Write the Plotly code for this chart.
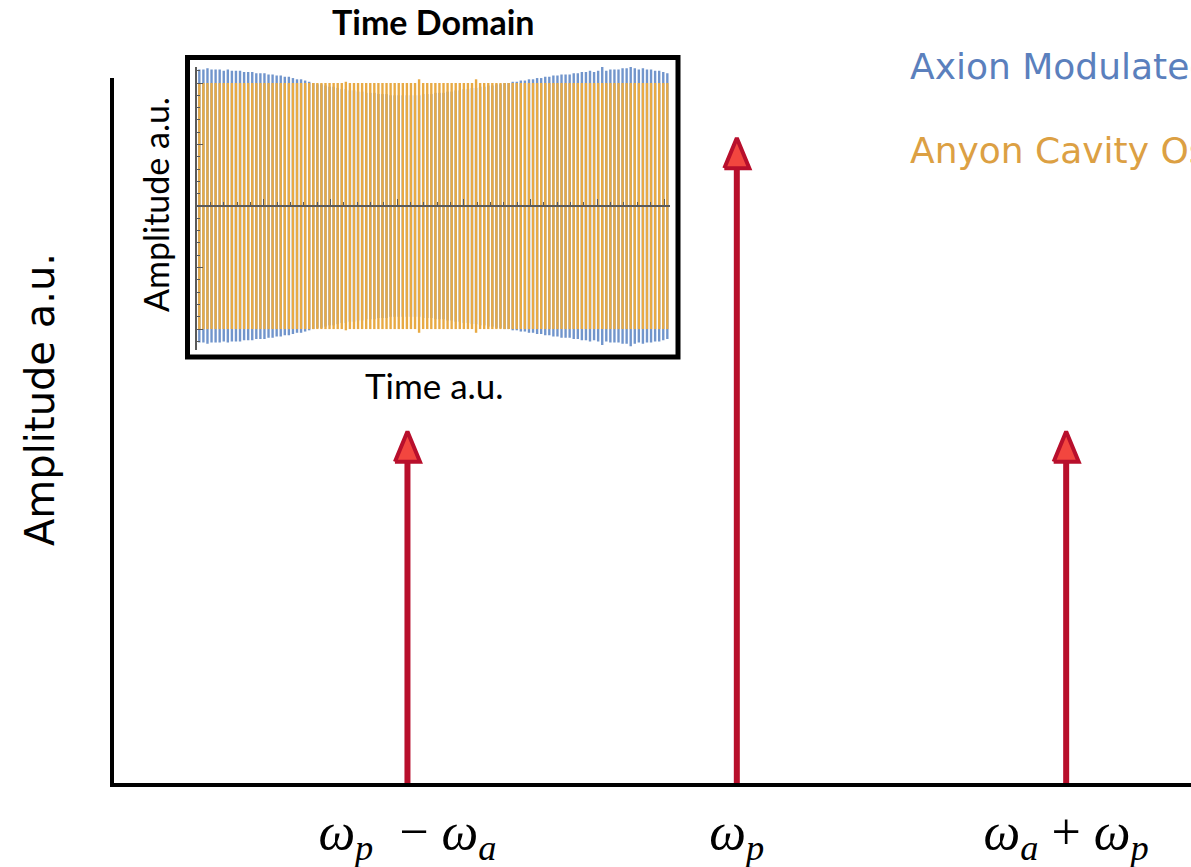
import numpy as np
import plotly.graph_objects as go

W, H = 1191, 867

# ---- spectrum: three lines (lower sideband, pump, upper sideband) ----
line_pos = [1, 2, 3]
line_amp = [0.545, 1.0, 0.545]
line_labels = [
    "<i>ω</i><sub><i>p</i></sub>&nbsp;&nbsp;− <i>ω</i><sub><i>a</i></sub>",
    "<i>ω</i><sub><i>p</i></sub>",
    "<i>ω</i><sub><i>a</i></sub> + <i>ω</i><sub><i>p</i></sub>",
]

# ---- time-domain inset: peak amplitude of each oscillation cycle ----
axion_amp = [
    1.11, 1.11, 1.12, 1.11, 1.11, 1.11, 1.10, 1.11, 1.10, 1.10,
    1.10, 1.09, 1.09, 1.09, 1.08, 1.08, 1.08, 1.07, 1.07, 1.06,
    1.06, 1.05, 1.05, 1.04, 1.03, 1.03, 1.02, 1.01, 1.00, 0.99,
    0.99, 0.98, 0.97, 0.97, 0.96, 0.95, 0.95, 0.94, 0.94, 0.93,
    0.93, 0.92, 0.92, 0.92, 0.91, 0.91, 0.91, 0.90, 0.90, 0.90,
    0.90, 0.90, 0.90, 0.90, 0.90, 0.91, 0.91, 0.91, 0.92, 0.92,
    0.92, 0.93, 0.93, 0.94, 0.94, 0.95, 0.95, 0.96, 0.96, 0.97,
    0.97, 0.98, 0.98, 0.99, 0.99, 1.00, 1.00, 1.01, 1.01, 1.02,
    1.02, 1.03, 1.03, 1.04, 1.04, 1.05, 1.05, 1.06, 1.06, 1.07,
    1.07, 1.07, 1.08, 1.08, 1.09, 1.09, 1.10, 1.09, 1.10, 1.13,
    1.10, 1.11, 1.11, 1.11, 1.12, 1.12, 1.14, 1.12, 1.11, 1.12,
    1.11, 1.11, 1.10, 1.10, 1.09, 1.08,
]
anyon_amp = [
    1.00, 1.00, 1.00, 1.00, 1.00, 1.00, 1.00, 1.00, 1.00, 1.00,
    1.00, 1.00, 1.00, 1.00, 1.00, 1.00, 1.00, 1.00, 1.00, 1.00,
    1.00, 1.00, 1.00, 1.00, 1.00, 1.00, 1.00, 1.00, 1.00, 1.00,
    1.00, 1.00, 1.00, 1.00, 1.00, 1.00, 1.01, 1.00, 1.00, 1.00,
    1.00, 1.00, 1.00, 1.00, 1.00, 1.00, 1.00, 1.00, 1.00, 1.00,
    1.00, 1.00, 1.00, 1.00, 1.03, 1.00, 1.00, 1.00, 1.00, 1.00,
    1.00, 1.00, 1.00, 1.00, 1.00, 1.00, 1.00, 1.00, 1.03, 1.00,
    1.00, 1.00, 1.00, 1.00, 1.00, 1.00, 1.00, 1.00, 1.00, 1.00,
    1.00, 1.00, 1.00, 1.00, 1.00, 1.00, 1.00, 1.00, 1.00, 1.00,
    1.00, 1.00, 1.00, 1.00, 1.00, 1.00, 1.00, 1.00, 1.00, 1.00,
    1.00, 1.00, 1.00, 1.00, 1.00, 1.00, 1.00, 1.00, 1.00, 1.00,
    1.00, 1.00, 1.00, 1.00, 1.00, 1.00,
]
cycle_period = 0.061
cycle_start = 0.035

legend_names = ["Axion Modulated Signal", "Anyon Cavity Oscillation"]

# ---- styling ----
DARK_RED = "#b80f2c"
HEAD_RED = "#f2463f"
AXION_BLUE = "#7195cc"
ANYON_ORANGE = "#e8aa44"
AXION_TEXT = "#5b80bd"
ANYON_TEXT = "#dca043"

def px_x(p):
    return p / W

def px_y(p):
    return 1 - p / H

fig = go.Figure()

# main axes geometry
main_x_dom = [px_x(114), 1.0]
main_y_dom = [px_y(783), px_y(78)]
x_range = [0.109, 3.379]
y_range = [0.0, 1.093]
head_half_w = 0.038
head_len = 0.047

for p, a in zip(line_pos, line_amp):
    fig.add_trace(go.Scatter(
        x=[p, p], y=[0, a - head_len], mode="lines",
        line=dict(color=DARK_RED, width=6), hoverinfo="skip",
        xaxis="x", yaxis="y",
    ))
    fig.add_trace(go.Scatter(
        x=[p - head_half_w, p, p + head_half_w, p - head_half_w],
        y=[a - head_len, a, a - head_len, a - head_len],
        mode="lines", fill="toself", fillcolor=HEAD_RED,
        line=dict(color=DARK_RED, width=4), hoverinfo="skip",
        xaxis="x", yaxis="y",
    ))

# inset geometry
ins_x_dom = [px_x(197), px_x(670)]
ins_y_dom = [px_y(350), px_y(67)]
ins_y_range = [-1.17, 1.13]
ins_x_range = [0, 7.09]
zero_frac = (0 - ins_y_range[0]) / (ins_y_range[1] - ins_y_range[0])
zero_pos = ins_y_dom[0] + zero_frac * (ins_y_dom[1] - ins_y_dom[0])

# each cycle drawn as a vertical stroke from -peak to +peak
t = cycle_start + np.arange(len(axion_amp)) * cycle_period
for amp, col in [(axion_amp, AXION_BLUE), (anyon_amp, ANYON_ORANGE)]:
    xs, ys = [], []
    for ti, ai in zip(t, amp):
        xs += [ti, ti, None]
        ys += [-ai, ai, None]
    fig.add_trace(go.Scatter(
        x=xs, y=ys, mode="lines", line=dict(color=col, width=2.4),
        xaxis="x2", yaxis="y2", hoverinfo="skip", connectgaps=False,
    ))

fig.update_layout(
    width=W, height=H,
    margin=dict(l=0, r=0, t=0, b=0, autoexpand=False),
    paper_bgcolor="white", plot_bgcolor="rgba(0,0,0,0)",
    showlegend=False,
    xaxis=dict(
        domain=main_x_dom, range=x_range, anchor="y",
        showline=True, linecolor="black", linewidth=4,
        showgrid=False, zeroline=False, ticks="",
        tickvals=line_pos, ticktext=line_labels,
        tickfont=dict(family="Liberation Serif", size=52, color="black"),
        ticklabelstandoff=0, ticklabeloverflow="allow", automargin=False,
    ),
    yaxis=dict(
        domain=main_y_dom, range=y_range, anchor="x",
        showline=True, linecolor="black", linewidth=4,
        showgrid=False, zeroline=False, ticks="", showticklabels=False,
        automargin=False,
    ),
    xaxis2=dict(
        domain=ins_x_dom, range=ins_x_range, anchor="free", position=zero_pos,
        showline=True, linecolor="#5a5a5a", linewidth=1.5,
        showgrid=False, zeroline=False, showticklabels=False,
        ticks="inside", ticklen=6, tickwidth=1.2, tickcolor="#5a5a5a",
        tick0=0, dtick=1,
        minor=dict(ticks="inside", ticklen=3, tickwidth=1, tickcolor="#5a5a5a",
                   dtick=0.2, showgrid=False),
        layer="above traces", automargin=False,
    ),
    yaxis2=dict(
        domain=ins_y_dom, range=ins_y_range, anchor="x2",
        showline=True, linecolor="#5a5a5a", linewidth=1.5,
        showgrid=False, zeroline=False, showticklabels=False,
        ticks="inside", ticklen=6, tickwidth=1.2, tickcolor="#5a5a5a",
        tick0=0, dtick=0.5,
        minor=dict(ticks="inside", ticklen=3, tickwidth=1, tickcolor="#5a5a5a",
                   dtick=0.1, showgrid=False),
        layer="above traces", automargin=False,
    ),
    shapes=[dict(
        type="rect", xref="paper", yref="paper",
        x0=px_x(187.5), x1=px_x(678), y0=px_y(357), y1=px_y(57.5),
        line=dict(color="black", width=5), fillcolor="rgba(0,0,0,0)",
        layer="above",
    )],
)

ann = [
    dict(text="<b>Time Domain</b>", x=px_x(433), y=px_y(22),
         font=dict(family="Lato", size=34, color="black")),
    dict(text="Time a.u.", x=px_x(434), y=px_y(385),
         font=dict(family="Lato", size=35, color="black")),
    dict(text="Amplitude a.u.", x=px_x(155), y=px_y(205), textangle=-90,
         font=dict(family="Lato", size=34, color="black")),
    dict(text="Amplitude a.u.", x=px_x(40), y=px_y(400), textangle=-90,
         font=dict(family="DejaVu Sans", size=40, color="black")),
    dict(text=legend_names[0], x=px_x(908), y=px_y(66), xanchor="left",
         font=dict(family="DejaVu Sans", size=36, color=AXION_TEXT)),
    dict(text=legend_names[1], x=px_x(908), y=px_y(150), xanchor="left",
         font=dict(family="DejaVu Sans", size=36, color=ANYON_TEXT)),
]
for a in ann:
    a.setdefault("xanchor", "center")
    a.update(xref="paper", yref="paper", yanchor="middle", showarrow=False)
fig.update_layout(annotations=ann)

fig.write_html("out.html")
